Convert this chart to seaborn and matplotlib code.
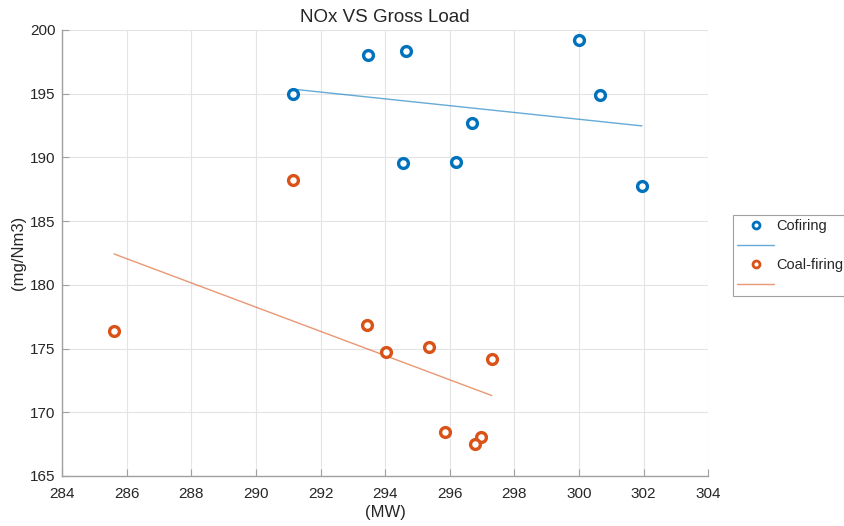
"""
NOx VS Gross Load — cofiring vs coal-firing, with linear fits
"""

import numpy as np
import pandas as pd
import matplotlib
matplotlib.use('Agg')
import matplotlib.pyplot as plt
from matplotlib.lines import Line2D
import seaborn as sns

# ── Data ──────────────────────────────────────────────────────────────────
cofiring_load = [291.16, 293.48, 294.65, 296.68, 294.56, 296.19, 300.01, 300.66, 301.95]
cofiring_nox  = [195.0, 198.04, 198.38, 192.68, 189.54, 189.6, 199.2, 194.87, 187.78]

coal_load = [285.60, 291.16, 293.44, 294.04, 295.37, 297.30, 295.85, 296.97, 296.77]
coal_nox  = [176.40, 188.23, 176.87, 174.70, 175.09, 174.20, 168.47, 168.08, 167.50]

x_ticks = list(range(284, 305, 2))
y_ticks = list(range(165, 201, 5))

BLUE   = '#0072BD'
ORANGE = '#D95319'

sns.set_theme(style='white')
plt.rcParams['font.family'] = ['Liberation Sans', 'DejaVu Sans']

fig = plt.figure(figsize=(8.45, 5.26), dpi=100)
ax = fig.add_axes([0.0737, 0.0951, 0.7643, 0.848])

df_co = pd.DataFrame({'load': cofiring_load, 'nox': cofiring_nox})
df_coal = pd.DataFrame({'load': coal_load, 'nox': coal_nox})

# 1. Scatter (open circles)
for df, col in [(df_co, BLUE), (df_coal, ORANGE)]:
    sns.scatterplot(data=df, x='load', y='nox', ax=ax, s=50, marker='o',
                    facecolor='white', edgecolor=col, linewidth=2.4, zorder=3)

# 2. Linear fits
for df, col in [(df_co, BLUE), (df_coal, ORANGE)]:
    sns.regplot(data=df, x='load', y='nox', ax=ax, scatter=False, ci=None,
                truncate=True, color=col, line_kws={'lw': 1.0, 'alpha': 0.6})

# 3. Axes styling (MATLAB look)
ax.set_xlim(284, 304)
ax.set_ylim(165, 200)
ax.set_xticks(x_ticks)
ax.set_yticks(y_ticks)
ax.grid(True, color='#E4E4E4', lw=0.8)
ax.set_axisbelow(True)
for side in ['top', 'right']:
    ax.spines[side].set_visible(False)
for side in ['left', 'bottom']:
    ax.spines[side].set_color('#A0A0A0')
    ax.spines[side].set_linewidth(1.0)
ax.tick_params(direction='in', length=5, width=0.8, color='#A0A0A0',
               labelsize=11, labelcolor='#262626',
               left=True, bottom=True)
ax.tick_params(axis='x', pad=8)
ax.tick_params(axis='y', pad=5)

ax.set_title('NOx VS Gross Load', fontsize=13.5, color='#262626', pad=6)
ax.set_xlabel('(MW)', fontsize=12, color='#262626', labelpad=3)
ax.set_ylabel('(mg/Nm3)', fontsize=12, color='#262626', labelpad=3)

# 4. Legend (marker entries + blank line entries)
handles = [
    Line2D([], [], ls='none', marker='o', ms=5, mfc='white', mec=BLUE, mew=2),
    Line2D([], [], color=BLUE, lw=1.0, alpha=0.6),
    Line2D([], [], ls='none', marker='o', ms=5, mfc='white', mec=ORANGE, mew=2),
    Line2D([], [], color=ORANGE, lw=1.0, alpha=0.6),
]
labels = ['Cofiring', '', 'Coal-firing', '']
leg = fig.legend(handles, labels, loc='upper left',
                 bbox_to_anchor=(733 / 845, 1 - 215 / 526),
                 fontsize=10.5, frameon=True, fancybox=False, framealpha=1,
                 edgecolor='#A0A0A0', handlelength=2.5, labelspacing=0.38,
                 borderpad=0.3, handletextpad=0.2, borderaxespad=0)
leg.get_frame().set_linewidth(0.8)

fig.savefig('out.png', dpi=100)
plt.close(fig)
